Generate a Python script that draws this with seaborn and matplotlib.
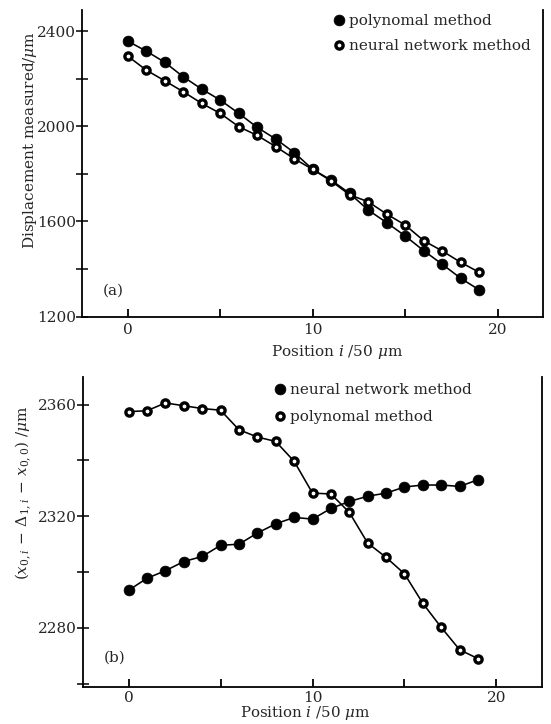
import matplotlib
matplotlib.use("Agg")
import matplotlib.pyplot as plt
import seaborn as sns
from matplotlib.ticker import MultipleLocator
from matplotlib.lines import Line2D

# ---------------- data ----------------
positions = list(range(20))

# panel (a): displacement measured (um)
poly_a = [2359, 2317, 2270, 2209, 2157, 2111, 2055, 1996, 1947, 1890,
          1819, 1774, 1718, 1648, 1595, 1539, 1477, 1420, 1361, 1312]
neural_a = [2296, 2237, 2192, 2146, 2097, 2055, 1999, 1962, 1915, 1864,
            1819, 1770, 1712, 1683, 1631, 1585, 1519, 1476, 1428, 1386]

# panel (b): (x0,i - D1,i - x0,0) (um)
neural_b = [2293.5, 2297.8, 2300.5, 2303.8, 2305.6, 2309.6, 2310.0, 2314.0, 2317.3, 2319.6,
            2319.0, 2322.8, 2325.3, 2327.2, 2328.3, 2330.5, 2331.2, 2331.2, 2330.7, 2333.1]
poly_b = [2357.5, 2357.8, 2360.6, 2359.6, 2358.6, 2358.0, 2351.0, 2348.4, 2346.8, 2339.7,
          2328.3, 2328.0, 2321.4, 2310.4, 2305.3, 2299.4, 2288.8, 2280.2, 2272.2, 2269.0]

label_poly = "polynomal method"
label_neural = "neural network method"
xlabel = r"Position $i$ /50 $\mu$m"
ylabel_a = r"Displacement measured/$\mu$m"
ylabel_b = r"$(x_{0,i}\,-\,\Delta_{1,i}\,-\,x_{0,0})$ /$\mu$m"

# ---------------- style ----------------
sns.set_theme(style="white")
plt.rcParams["font.family"] = ["DejaVu Serif"]
plt.rcParams["mathtext.fontset"] = "dejavuserif"
plt.rcParams["font.size"] = 11

W, H = 551, 724
fig = plt.figure(figsize=(W / 100, H / 100), dpi=100)

def px_axes(l, t, r, b):
    return fig.add_axes([l / W, 1 - b / H, (r - l) / W, (b - t) / H])

ax1 = px_axes(81.5, 10, 543, 316.5)
ax2 = px_axes(82.6, 376.7, 541.5, 686.6)

filled = dict(marker="o", markersize=7.8, markerfacecolor="black",
              markeredgecolor="black", markeredgewidth=0.5)
hollow = dict(marker="o", markersize=5.2, markerfacecolor="white",
              markeredgecolor="black", markeredgewidth=2.4)
line_kw = dict(color="black", linewidth=1.15)

# panel (a)
sns.lineplot(x=positions, y=poly_a, ax=ax1, **line_kw, **filled, label=label_poly)
sns.lineplot(x=positions, y=neural_a, ax=ax1, **line_kw, **hollow, label=label_neural)
# panel (b)
sns.lineplot(x=positions, y=neural_b, ax=ax2, **line_kw, **filled, label=label_neural)
sns.lineplot(x=positions, y=poly_b, ax=ax2, **line_kw, **hollow, label=label_poly)

ax1.set_xlim(-2.5, 22.45)
ax1.set_ylim(1200, 2490)
ax2.set_xlim(-2.5, 22.45)
ax2.set_ylim(2259, 2370)

for ax in (ax1, ax2):
    ax.xaxis.set_major_locator(MultipleLocator(10))
    ax.xaxis.set_minor_locator(MultipleLocator(5))
    ax.spines["top"].set_visible(False)
    for s in ("left", "right", "bottom"):
        ax.spines[s].set_color("black")
        ax.spines[s].set_linewidth(1.3)
    ax.tick_params(axis="x", which="both", direction="in", length=6, width=1.3,
                   color="black", labelsize=11, pad=5, bottom=True)
    ax.tick_params(axis="y", which="both", direction="inout", length=8, width=1.1,
                   color="black", labelsize=11, pad=0, left=True)
    ax.grid(False)
    ax.set_facecolor("white")

ax2.tick_params(axis="x", which="both", pad=3)

ax1.yaxis.set_major_locator(MultipleLocator(400))
ax1.yaxis.set_minor_locator(MultipleLocator(200))
ax2.yaxis.set_major_locator(MultipleLocator(40))
ax2.yaxis.set_minor_locator(MultipleLocator(20))

ax1.set_xlabel(xlabel, fontsize=11)
ax1.xaxis.set_label_coords(0.554, -0.085)
ax2.set_xlabel(xlabel, fontsize=10.8)
ax2.xaxis.set_label_coords(0.485, -0.056)

ax1.set_ylabel(ylabel_a, fontsize=11)
ax1.yaxis.set_label_coords(-0.093, 0.575)
ax2.set_ylabel(ylabel_b, fontsize=11)
ax2.yaxis.set_label_coords(-0.106, 0.625)

ax1.text(0.045, 0.085, "(a)", transform=ax1.transAxes, fontsize=11, va="center")
ax2.text(0.047, 0.095, "(b)", transform=ax2.transAxes, fontsize=11, va="center")

def make_legend(ax, handles_kw, labels, x_px, y_px, spacing):
    handles = [Line2D([], [], linestyle="none", **kw) for kw in handles_kw]
    ax.legend(handles, labels, loc="upper left",
              bbox_to_anchor=(x_px / W, 1 - y_px / H), bbox_transform=fig.transFigure,
              frameon=False, handlelength=0.65, handletextpad=0.35, borderpad=0,
              borderaxespad=0, labelspacing=spacing, fontsize=11)

make_legend(ax1, [filled, hollow], [label_poly, label_neural], 334, 14, 0.72)
make_legend(ax2, [filled, hollow], [label_neural, label_poly], 275, 383, 0.85)

fig.savefig("out.png", dpi=100, facecolor="white")
